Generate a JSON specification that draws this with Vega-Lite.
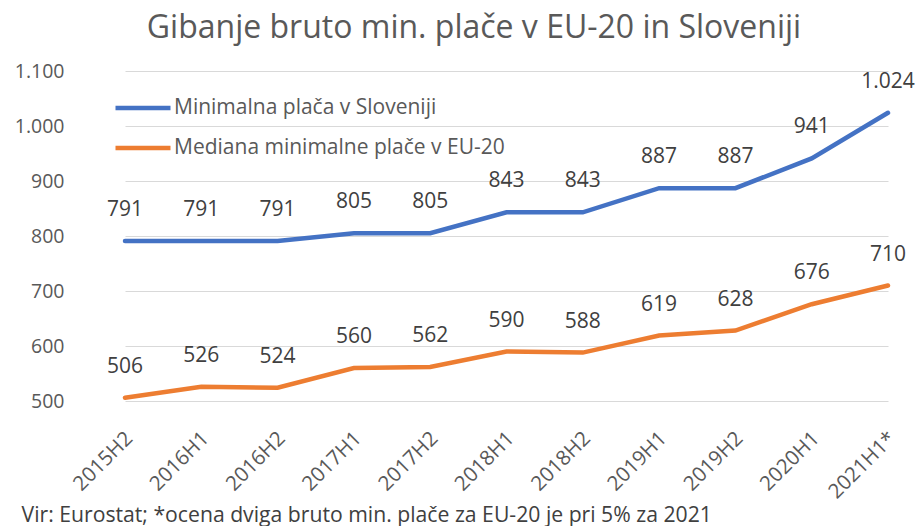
{
  "$schema": "https://vega.github.io/schema/vega-lite/v6.json",
  "width": 830,
  "height": 330,
  "autosize": {"type": "none"},
  "padding": {"left": 88, "top": 71, "right": 0, "bottom": 125},
  "background": "white",
  "config": {
    "locale": {"number": {"decimal": ",", "thousands": ".", "grouping": [3], "currency": ["", " €"]}},
    "view": {"stroke": null},
    "font": "Open Sans"
  },
  "title": {
    "text": "Gibanje bruto min. plače v EU-20 in Sloveniji",
    "fontSize": 32,
    "font": "Open Sans",
    "fontWeight": "normal",
    "color": "#595959",
    "anchor": "middle",
    "dx": -29,
    "offset": 16
  },
  "data": {
    "values": [
      {"obdobje": "2015H2", "serija": "Minimalna plača v Sloveniji", "vrednost": 791},
      {"obdobje": "2016H1", "serija": "Minimalna plača v Sloveniji", "vrednost": 791},
      {"obdobje": "2016H2", "serija": "Minimalna plača v Sloveniji", "vrednost": 791},
      {"obdobje": "2017H1", "serija": "Minimalna plača v Sloveniji", "vrednost": 805},
      {"obdobje": "2017H2", "serija": "Minimalna plača v Sloveniji", "vrednost": 805},
      {"obdobje": "2018H1", "serija": "Minimalna plača v Sloveniji", "vrednost": 843},
      {"obdobje": "2018H2", "serija": "Minimalna plača v Sloveniji", "vrednost": 843},
      {"obdobje": "2019H1", "serija": "Minimalna plača v Sloveniji", "vrednost": 887},
      {"obdobje": "2019H2", "serija": "Minimalna plača v Sloveniji", "vrednost": 887},
      {"obdobje": "2020H1", "serija": "Minimalna plača v Sloveniji", "vrednost": 941},
      {"obdobje": "2021H1*", "serija": "Minimalna plača v Sloveniji", "vrednost": 1024},
      {"obdobje": "2015H2", "serija": "Mediana minimalne plače v EU-20", "vrednost": 506},
      {"obdobje": "2016H1", "serija": "Mediana minimalne plače v EU-20", "vrednost": 526},
      {"obdobje": "2016H2", "serija": "Mediana minimalne plače v EU-20", "vrednost": 524},
      {"obdobje": "2017H1", "serija": "Mediana minimalne plače v EU-20", "vrednost": 560},
      {"obdobje": "2017H2", "serija": "Mediana minimalne plače v EU-20", "vrednost": 562},
      {"obdobje": "2018H1", "serija": "Mediana minimalne plače v EU-20", "vrednost": 590},
      {"obdobje": "2018H2", "serija": "Mediana minimalne plače v EU-20", "vrednost": 588},
      {"obdobje": "2019H1", "serija": "Mediana minimalne plače v EU-20", "vrednost": 619},
      {"obdobje": "2019H2", "serija": "Mediana minimalne plače v EU-20", "vrednost": 628},
      {"obdobje": "2020H1", "serija": "Mediana minimalne plače v EU-20", "vrednost": 676},
      {"obdobje": "2021H1*", "serija": "Mediana minimalne plače v EU-20", "vrednost": 710}
    ]
  },
  "encoding": {
    "x": {
      "field": "obdobje",
      "type": "ordinal",
      "sort": null,
      "scale": {"type": "point", "range": [37, 800], "padding": 0},
      "axis": {
        "labelAngle": -45,
        "labelAlign": "right",
        "labelBaseline": "middle",
        "labelFontSize": 20.5,
        "labelColor": "#595959",
        "labelPadding": 34,
        "labelOffset": 4,
        "domain": false,
        "ticks": false,
        "grid": false,
        "title": "Vir: Eurostat; *ocena dviga bruto min. plače za EU-20 je pri 5% za 2021",
        "titleFontSize": 21.2,
        "titleFontWeight": "normal",
        "titleColor": "#404040",
        "titleAnchor": "start",
        "titleAlign": "left",
        "titleBaseline": "alphabetic",
        "titleX": -67,
        "titleY": 120
      }
    },
    "y": {
      "field": "vrednost",
      "type": "quantitative",
      "scale": {"domain": [500, 1100], "nice": false, "zero": false},
      "axis": {
        "values": [500, 600, 700, 800, 900, 1000, 1100],
        "format": ",d",
        "grid": true,
        "gridColor": "#d9d9d9",
        "gridWidth": 1.2,
        "domain": false,
        "ticks": false,
        "labelFontSize": 19.5,
        "labelColor": "#595959",
        "labelPadding": 24,
        "title": null
      }
    },
    "color": {
      "field": "serija",
      "type": "nominal",
      "scale": {
        "domain": ["Minimalna plača v Sloveniji", "Mediana minimalne plače v EU-20"],
        "range": ["#4472C4", "#ED7D31"]
      },
      "legend": {
        "title": null,
        "orient": "none",
        "legendX": 25,
        "legendY": 7,
        "symbolType": "stroke",
        "symbolSize": 3025,
        "symbolStrokeWidth": 4.5,
        "labelFontSize": 21,
        "labelColor": "#595959",
        "labelOffset": 1,
        "labelLimit": 0,
        "rowPadding": -14
      }
    }
  },
  "layer": [
    {"mark": {"type": "line", "strokeWidth": 4.5, "strokeCap": "round"}},
    {
      "mark": {"type": "text", "dy": -31, "fontSize": 21, "baseline": "middle"},
      "encoding": {
        "text": {"field": "vrednost", "type": "quantitative", "format": ",d"},
        "color": {"value": "#404040"}
      }
    }
  ]
}
